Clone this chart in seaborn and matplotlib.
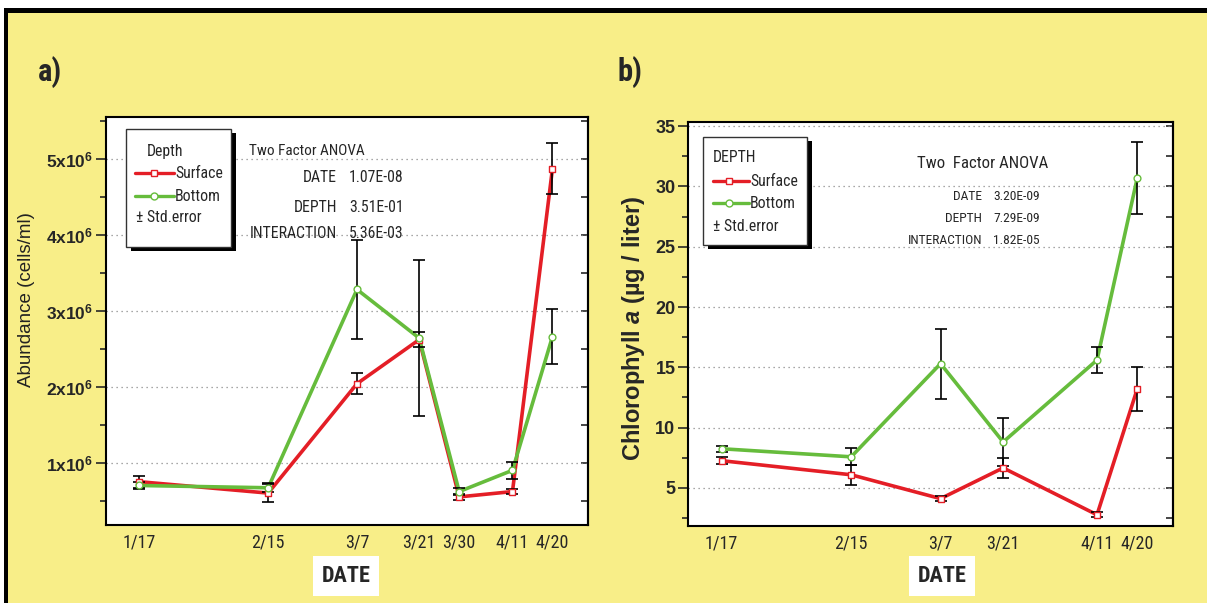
import numpy as np
import pandas as pd
import matplotlib
matplotlib.use("Agg")
import matplotlib.pyplot as plt
from matplotlib.patches import Rectangle
from matplotlib.lines import Line2D
from matplotlib.ticker import MultipleLocator
from matplotlib import font_manager
import seaborn as sns

# ---------------------------------------------------------------- data
dates_a = ["1/17", "2/15", "3/7", "3/21", "3/30", "4/11", "4/20"]
abund_surface = [0.75e6, 0.60e6, 2.04e6, 2.62e6, 0.55e6, 0.62e6, 4.87e6]
abund_surface_se = [0.08e6, 0.12e6, 0.14e6, 0.10e6, 0.04e6, 0.03e6, 0.34e6]
abund_bottom = [0.70e6, 0.67e6, 3.28e6, 2.64e6, 0.62e6, 0.90e6, 2.66e6]
abund_bottom_se = [0.05e6, 0.06e6, 0.65e6, 1.03e6, 0.05e6, 0.11e6, 0.36e6]

dates_b = ["1/17", "2/15", "3/7", "3/21", "4/11", "4/20"]
chl_surface = [7.25, 6.08, 4.10, 6.65, 2.76, 13.2]
chl_surface_se = [0.30, 0.85, 0.20, 0.85, 0.20, 1.80]
chl_bottom = [8.24, 7.57, 15.3, 8.80, 15.6, 30.7]
chl_bottom_se = [0.25, 0.70, 2.90, 2.00, 1.05, 2.95]

anova_terms = ["DATE", "DEPTH", "INTERACTION"]
anova_p_a = ["1.07E-08", "3.51E-01", "5.36E-03"]
anova_p_b = ["3.20E-09", "7.29E-09", "1.82E-05"]

abund_ticks = [1e6, 2e6, 3e6, 4e6, 5e6]
abund_ticklabels = [r"%dx10$^{\mathbf{6}}$" % k for k in range(1, 6)]
chl_ticks = [5, 10, 15, 20, 25, 30, 35]

# ---------------------------------------------------------------- style
sns.set_style("ticks")
SANS = ["Liberation Sans", "DejaVu Sans"]

# condensed face for the small annotation text; fall back to a scaled-down
# regular face when no condensed family is installed
installed = {f.name for f in font_manager.fontManager.ttflist}
NARROW_FACE = None
for cand in ["Liberation Sans Narrow", "Arial Narrow", "Roboto Condensed",
             "Open Sans Condensed"]:
    if cand in installed:
        NARROW_FACE = cand
        break
if NARROW_FACE:
    NARROW = [NARROW_FACE, "Liberation Sans", "DejaVu Sans"]
    NSCALE = 1.0
else:
    NARROW = SANS
    NSCALE = 0.8


def nsz(size):
    return size * NSCALE


plt.rcParams["font.family"] = SANS
plt.rcParams["mathtext.fontset"] = "custom"
plt.rcParams["mathtext.rm"] = "Liberation Sans:bold"
plt.rcParams["mathtext.bf"] = "Liberation Sans:bold"
plt.rcParams["mathtext.it"] = "Liberation Sans:italic:bold"
plt.rcParams["mathtext.bfit"] = "Liberation Sans:italic:bold"

YELLOW = "#F8EE88"
RED = "#E41E26"
GREEN = "#66BC3C"
palette = {"Surface": RED, "Bottom": GREEN}

W, H = 1207, 603
fig = plt.figure(figsize=(W / 100, H / 100), dpi=100, facecolor=YELLOW)


def fx(x):
    return x / W


def fy(y):
    return 1 - y / H


def to_day(dates):
    return pd.to_datetime(["2011/" + d for d in dates]).dayofyear.to_numpy()


def long_frame(dates, surf, surf_se, bot, bot_se):
    day = to_day(dates)
    return pd.DataFrame({
        "day": np.concatenate([day, day]),
        "value": np.concatenate([surf, bot]),
        "se": np.concatenate([surf_se, bot_se]),
        "Depth": ["Surface"] * len(day) + ["Bottom"] * len(day),
    })


def draw_series(ax, df):
    sns.lineplot(data=df, x="day", y="value", hue="Depth",
                 hue_order=["Surface", "Bottom"], palette=palette,
                 linewidth=2.6, legend=False, sort=False, ax=ax, zorder=2)
    for name in ["Surface", "Bottom"]:
        g = df[df["Depth"] == name]
        ax.errorbar(g["day"], g["value"], yerr=g["se"], fmt="none",
                    ecolor="black", elinewidth=1.2, capsize=4.5,
                    capthick=1.2, zorder=3)
    for name, mk in [("Surface", "s"), ("Bottom", "o")]:
        g = df[df["Depth"] == name]
        sns.scatterplot(x=g["day"], y=g["value"], marker=mk, s=24,
                        color="white", edgecolor=palette[name],
                        linewidth=1.0, ax=ax, zorder=4, legend=False)


def style_axes(ax, dates, yticks, minor_step, ylim):
    ax.set_facecolor("white")
    ax.set_xlim(9.5, 118)
    ax.set_ylim(*ylim)
    ax.set_xticks(to_day(dates))
    ax.set_xticklabels(dates, family=NARROW, fontsize=nsz(13))
    ax.tick_params(axis="x", length=0, pad=6)
    ax.set_yticks(yticks)
    ax.yaxis.set_minor_locator(MultipleLocator(minor_step))
    ax.tick_params(axis="y", which="major", direction="out", length=7,
                   width=1.2, pad=2, labelsize=12.5)
    ax.tick_params(axis="y", which="minor", direction="out", length=4,
                   width=1.2)
    ax.yaxis.grid(True, linestyle=(0, (1, 3)), color="#8a8a8a", lw=0.9)
    ax.xaxis.grid(False)
    for sp in ax.spines.values():
        sp.set_visible(True)
        sp.set_color("black")
        sp.set_linewidth(1.5)
    ax.set_xlabel("")
    ax.set_ylabel("")
    sec = ax.secondary_yaxis("right")
    sec.set_yticks(yticks)
    sec.yaxis.set_minor_locator(MultipleLocator(minor_step))
    sec.tick_params(which="both", direction="in", length=5, width=1.2,
                    labelright=False)
    sec.spines["right"].set_linewidth(1.5)


def draw_key(x0, y0, x1, y1, title, title_x, tx, rows_y, hx0, hx1, mx,
             std_x, std_y, fs):
    fig.add_artist(Rectangle((fx(x0 + 5), fy(y1 + 4)), (x1 - x0) / W,
                             (y1 - y0) / H, transform=fig.transFigure,
                             facecolor="black", edgecolor="none", zorder=5))
    fig.add_artist(Rectangle((fx(x0), fy(y1)), (x1 - x0) / W, (y1 - y0) / H,
                             transform=fig.transFigure, facecolor="white",
                             edgecolor="#333333", lw=1.0, zorder=6))
    fig.text(fx(title_x), fy(rows_y[0]), title, family=NARROW, fontsize=fs,
             va="center", ha="left", zorder=7)
    for (name, mk), yy in zip([("Surface", "s"), ("Bottom", "o")], rows_y[1:]):
        fig.add_artist(Line2D([fx(hx0), fx(hx1)], [fy(yy), fy(yy)],
                              color=palette[name], lw=2.4,
                              transform=fig.transFigure, zorder=7))
        fig.add_artist(Line2D([fx(mx)], [fy(yy)], marker=mk, ms=5,
                              mfc="white", mec=palette[name], mew=1.0,
                              ls="none", transform=fig.transFigure, zorder=8))
        fig.text(fx(tx), fy(yy), name, family=NARROW, fontsize=fs,
                 va="center", ha="left", zorder=7)
    fig.text(fx(std_x), fy(std_y), "\u00b1 Std.error", family=NARROW,
             fontsize=fs, va="center", ha="left", zorder=7)


# ---------------------------------------------------------------- panel a
ax_a = fig.add_axes([fx(106), fy(525), (588 - 106) / W, (525 - 117) / H])
draw_series(ax_a, long_frame(dates_a, abund_surface, abund_surface_se,
                             abund_bottom, abund_bottom_se))
style_axes(ax_a, dates_a, abund_ticks, 0.5e6, (0.18e6, 5.55e6))
ax_a.set_yticklabels(abund_ticklabels, fontweight="bold", fontsize=12.5)

# ---------------------------------------------------------------- panel b
ax_b = fig.add_axes([fx(688), fy(526), (1173 - 688) / W, (526 - 122) / H])
draw_series(ax_b, long_frame(dates_b, chl_surface, chl_surface_se,
                             chl_bottom, chl_bottom_se))
style_axes(ax_b, dates_b, chl_ticks, 2.5, (1.83, 35.35))
ax_b.set_yticklabels([str(t) for t in chl_ticks], fontweight="bold",
                     fontsize=13)

# ---------------------------------------------------------------- frame
fig.add_artist(Rectangle((0, fy(8)), 1, 8 / H, transform=fig.transFigure,
                         facecolor="white", edgecolor="none", zorder=1))
fig.add_artist(Rectangle((0, fy(13)), 1, 5 / H, transform=fig.transFigure,
                         facecolor="black", edgecolor="none", zorder=1))
fig.add_artist(Rectangle((0, 0), 4 / W, 1, transform=fig.transFigure,
                         facecolor="white", edgecolor="none", zorder=1))
fig.add_artist(Rectangle((fx(4), 0), 4 / W, fy(8), transform=fig.transFigure,
                         facecolor="black", edgecolor="none", zorder=1))

# ---------------------------------------------------------------- labels
fig.text(fx(50), fy(72), "a)", family=NARROW, fontsize=nsz(22),
         fontweight="bold", ha="center", va="center")
fig.text(fx(630), fy(72), "b)", family=NARROW, fontsize=nsz(22),
         fontweight="bold", ha="center", va="center")

fig.text(fx(27), fy(300), "Abundance (cells/ml)", rotation=90,
         fontsize=13.5, color="#222222", ha="center", va="center")
fig.text(fx(633), fy(328), "Chlorophyll $\\mathbfit{a}$ (\u00b5g / liter)",
         rotation=90, fontsize=17, fontweight="bold", ha="center",
         va="center")

for xc in (346, 942):
    fig.text(fx(xc), fy(576), "DATE", family=NARROW, fontsize=nsz(16),
             fontweight="bold", ha="center", va="center",
             bbox=dict(facecolor="white", edgecolor="none",
                       boxstyle="square,pad=0.4"))

# legends
draw_key(126, 129, 231, 247, "Depth", 147, 175, [151, 173, 196],
         135, 174, 154, 136, 218, nsz(11.3))
draw_key(703, 137, 807, 245, "DEPTH", 713, 750, [158, 181, 203],
         713, 749, 729, 713, 227, nsz(11.3))

# ANOVA summaries
fig.text(fx(249), fy(151), "Two Factor ANOVA", family=NARROW,
         fontsize=nsz(11), ha="left", va="center")
for term, p, yy in zip(anova_terms, anova_p_a, [178, 207, 234]):
    fig.text(fx(337), fy(yy), term, family=NARROW, fontsize=nsz(11.3),
             ha="right", va="center")
    fig.text(fx(349), fy(yy), p, family=NARROW, fontsize=nsz(11.3),
             ha="left", va="center")

fig.text(fx(917), fy(163), "Two  Factor ANOVA", family=NARROW,
         fontsize=nsz(12.2), ha="left", va="center")
for term, p, yy in zip(anova_terms, anova_p_b, [197, 219, 240]):
    fig.text(fx(982), fy(yy), term, family=NARROW, fontsize=nsz(9.7),
             ha="right", va="center")
    fig.text(fx(993), fy(yy), p, family=NARROW, fontsize=nsz(9.7),
             ha="left", va="center")

fig.savefig("out.png", dpi=100, facecolor=YELLOW)
